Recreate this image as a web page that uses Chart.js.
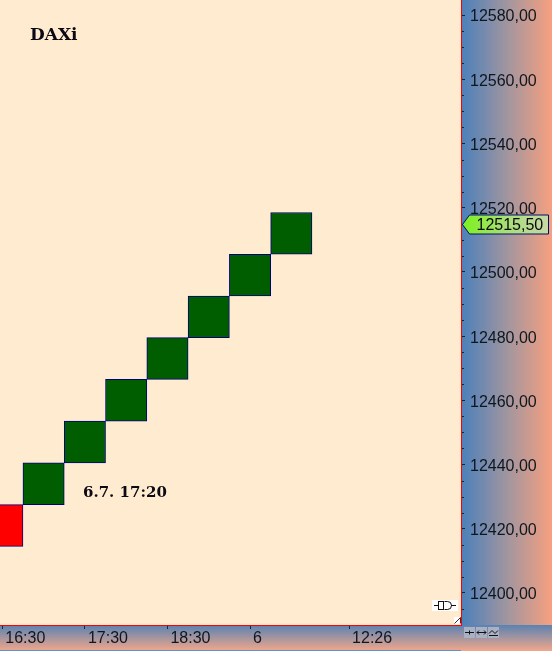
<!DOCTYPE html>
<html lang="de">
<head>
<meta charset="UTF-8">
<title>DAXi Renko</title>
<script src="https://cdn.jsdelivr.net/npm/chart.js"></script>
<style>
  html, body { margin: 0; padding: 0; background: #ffebd0; }
  canvas { display: block; }
</style>
</head>
<body>
<canvas id="chart" width="552" height="651"></canvas>
<script>
// Renko-Boxen, Index 0 ist die rote Box ganz links (halb abgeschnitten)
const boxIndex = [0, 1, 2, 3, 4, 5, 6, 7];
const boxLow  = [12414.5, 12427.5, 12440.5, 12453.5, 12466.5, 12479.5, 12492.5, 12505.5];
const boxHigh = [12427.5, 12440.5, 12453.5, 12466.5, 12479.5, 12492.5, 12505.5, 12518.5];
const boxUp   = [false, true, true, true, true, true, true, true];

// Preisachse
const priceTicks = [12400, 12420, 12440, 12460, 12480, 12500, 12520, 12540, 12560, 12580];
const minorStep = 5;

// Zeitachse (Position in Box-Einheiten)
const timeTickPos = [0, 2, 4, 6, 8.4];
const timeLabels = ['16:30', '17:30', '18:30', '6', '12:26'];

const lastPrice = 12515.5;
const symbolName = 'DAXi';
const stampText = '6.7. 17:20';

const fmtPrice = v => v.toFixed(2).replace('.', ',');

// Hintergruende der Achsen + Beschriftungen
const decoPlugin = {
    id: 'deco',
    beforeDraw(chart) {
        const ctx = chart.ctx;
        const a = chart.chartArea;
        const W = chart.width, H = chart.height;
        ctx.save();
        ctx.fillStyle = '#ffebd0';
        ctx.fillRect(0, 0, W, H);

        // rechte Preisachse
        let g = ctx.createLinearGradient(a.right, 0, W, 0);
        g.addColorStop(0, '#4a80bb');
        g.addColorStop(0.5, '#a0959f');
        g.addColorStop(1, '#f7a080');
        ctx.fillStyle = g;
        ctx.fillRect(a.right, 0, W - a.right, a.bottom);

        // untere Zeitachse + Ecke
        g = ctx.createLinearGradient(0, a.bottom, 0, H - 1);
        g.addColorStop(0, '#5a82b2');
        g.addColorStop(1, '#eca68c');
        ctx.fillStyle = g;
        ctx.fillRect(0, a.bottom, W, H - a.bottom);
        ctx.fillStyle = '#5b93cf';
        ctx.fillRect(0, H - 1, a.right, 1);
        ctx.restore();
    },
    afterDraw(chart) {
        const ctx = chart.ctx;
        const a = chart.chartArea;
        const ys = chart.scales.y;
        ctx.save();

        // kleine Zwischenstriche
        ctx.strokeStyle = '#1a2530';
        ctx.lineWidth = 1;
        ys.ticks.forEach(t => {
            if (priceTicks.includes(t.value)) return;
            const y = Math.round(ys.getPixelForValue(t.value)) + 0.5;
            ctx.beginPath();
            ctx.moveTo(a.right + 1, y);
            ctx.lineTo(a.right + 3, y);
            ctx.stroke();
        });

        // Kursmarke
        const py = Math.round(ys.getPixelForValue(lastPrice)) + 2.5;
        const x0 = a.right + 1.5, x1 = x0 + 7, x2 = chart.width - 3.5;
        ctx.beginPath();
        ctx.moveTo(x0, py);
        ctx.lineTo(x1, py - 9.5);
        ctx.lineTo(x2, py - 9.5);
        ctx.lineTo(x2, py + 9.5);
        ctx.lineTo(x1, py + 9.5);
        ctx.closePath();
        const g = ctx.createLinearGradient(x0, 0, x2, 0);
        g.addColorStop(0, '#7cf21c');
        g.addColorStop(0.45, '#a4e070');
        g.addColorStop(1, '#c6d8a8');
        ctx.fillStyle = g;
        ctx.fill();
        ctx.strokeStyle = '#00106a';
        ctx.stroke();
        ctx.fillStyle = '#0a0a0a';
        ctx.font = '16px "Liberation Sans"';
        ctx.textBaseline = 'middle';
        ctx.textAlign = 'left';
        ctx.fillText(fmtPrice(lastPrice), x0 + 14, py + 1);

        // Symbol und Zeitstempel
        ctx.textBaseline = 'alphabetic';
        ctx.fillStyle = '#0a0a14';
        ctx.font = 'bold 17px "DejaVu Serif"';
        ctx.fillText(symbolName, 30, 40);
        ctx.font = 'bold 15px "DejaVu Serif"';
        ctx.fillText(stampText, 83, 497);

        // kleines Symbol unten rechts im Chart
        ctx.fillStyle = '#ffffff';
        ctx.fillRect(432, 600, 26, 11);
        ctx.strokeStyle = '#111';
        ctx.beginPath();
        ctx.moveTo(434, 605.5); ctx.lineTo(438, 605.5);
        ctx.moveTo(451, 605.5); ctx.lineTo(456, 605.5);
        ctx.stroke();
        ctx.strokeRect(438.5, 601.5, 5, 8);
        ctx.beginPath();
        ctx.moveTo(444.5, 601.5); ctx.lineTo(447.5, 601.5);
        ctx.arc(447.5, 605.5, 4, -Math.PI / 2, Math.PI / 2);
        ctx.lineTo(444.5, 609.5);
        ctx.stroke();

        // Eck-Dreieck
        ctx.fillStyle = '#ffffff';
        ctx.fillRect(454, 617, 7, 7);
        ctx.strokeStyle = '#333';
        ctx.beginPath();
        ctx.moveTo(454.5, 623.5); ctx.lineTo(460.5, 617.5);
        ctx.lineTo(460.5, 623.5);
        ctx.stroke();

        // Knoepfe in der Ecke
        const bx = a.right + 3;
        for (let i = 0; i < 3; i++) {
            ctx.fillStyle = '#a9b1c4';
            ctx.fillRect(bx + i * 12, a.bottom + 2, 11, 11);
        }
        ctx.strokeStyle = '#111';
        ctx.beginPath();
        const cy = a.bottom + 7.5;
        ctx.moveTo(bx + 1, cy); ctx.lineTo(bx + 10, cy);
        ctx.moveTo(bx + 5.5, cy - 2); ctx.lineTo(bx + 5.5, cy + 2);
        ctx.moveTo(bx + 13, cy); ctx.lineTo(bx + 22, cy);
        ctx.moveTo(bx + 13, cy); ctx.lineTo(bx + 15, cy - 2);
        ctx.moveTo(bx + 13, cy); ctx.lineTo(bx + 15, cy + 2);
        ctx.moveTo(bx + 22, cy); ctx.lineTo(bx + 20, cy - 2);
        ctx.moveTo(bx + 22, cy); ctx.lineTo(bx + 20, cy + 2);
        ctx.moveTo(bx + 25, cy + 1); ctx.lineTo(bx + 28, cy - 2);
        ctx.lineTo(bx + 31, cy + 1); ctx.lineTo(bx + 34, cy - 2);
        ctx.moveTo(bx + 25, cy + 3); ctx.lineTo(bx + 34, cy + 3);
        ctx.stroke();

        ctx.restore();
    }
};

const ctx = document.getElementById('chart').getContext('2d');
new Chart(ctx, {
    type: 'bar',
    data: {
        datasets: [{
            data: boxIndex.map((x, i) => ({ x: x, y: [boxLow[i], boxHigh[i]] })),
            backgroundColor: boxUp.map(u => u ? '#005e00' : '#ff0000'),
            borderColor: '#00007a',
            borderWidth: 1,
            borderSkipped: false,
            barThickness: 41.3
        }]
    },
    options: {
        responsive: false,
        animation: false,
        layout: { padding: 0 },
        plugins: { legend: { display: false }, tooltip: { enabled: false } },
        scales: {
            x: {
                type: 'linear',
                offset: false,
                min: -0.056,
                max: 11.11,
                afterBuildTicks: s => { s.ticks = timeTickPos.map(v => ({ value: v })); },
                afterFit: s => {
                    s.height = 26;
                    s.paddingLeft = 0; s.paddingRight = 0;
                },
                grid: { offset: false, drawOnChartArea: false, tickLength: 4, tickColor: '#1a2530' },
                border: { color: '#ff0000', width: 1 },
                ticks: {
                    autoSkip: false,
                    maxRotation: 0,
                    align: 'start',
                    labelOffset: 3,
                    padding: 0,
                    color: '#0e1620',
                    font: { family: 'Liberation Sans', size: 16 },
                    callback: (v, i) => timeLabels[i]
                }
            },
            y: {
                type: 'linear',
                position: 'right',
                min: 12390,
                max: 12584.7,
                afterBuildTicks: s => {
                    const t = [];
                    for (let v = priceTicks[0] - minorStep; v <= priceTicks[priceTicks.length - 1]; v += minorStep) {
                        t.push({ value: v });
                    }
                    s.ticks = t;
                },
                afterFit: s => {
                    s.width = 91;
                    s.paddingTop = 0; s.paddingBottom = 0;
                },
                grid: {
                    drawOnChartArea: false,
                    tickLength: 4,
                    tickColor: c => (c.tick && priceTicks.includes(c.tick.value)) ? '#1a2530' : 'rgba(0,0,0,0)'
                },
                border: { color: '#ff0000', width: 1 },
                ticks: {
                    autoSkip: false,
                    padding: 5,
                    labelOffset: 2,
                    color: '#0e1620',
                    font: { family: 'Liberation Sans', size: 16 },
                    callback: v => priceTicks.includes(v) ? fmtPrice(v) : ''
                }
            }
        }
    },
    plugins: [decoPlugin]
});
</script>
</body>
</html>
